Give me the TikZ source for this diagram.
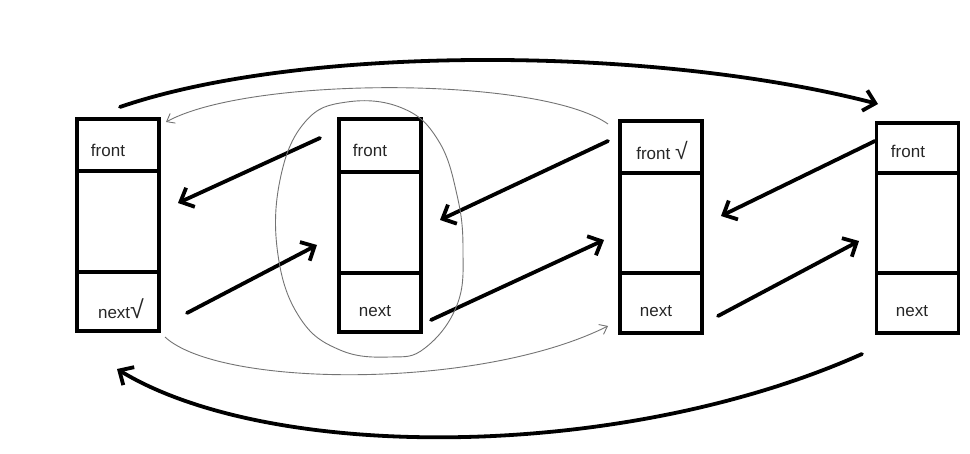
\documentclass[tikz,border=0pt]{standalone}
\usepackage{fontspec}
\setmainfont{Liberation Sans}
\usetikzlibrary{arrows.meta}
\begin{document}
\begin{tikzpicture}[x=1pt,y=-1pt,
  cell/.style={draw, line width=3.3pt, rectangle, inner sep=0pt, minimum width=82pt},
  lbl/.style={inner sep=0pt, font=\fontsize{17}{19}\selectfont, text=black!85},
  bold/.style={line width=3.8pt, line cap=round, -{Straight Barb[length=11pt,width=21pt,line width=3.8pt]}},
  thin/.style={draw=black!55, line width=0.9pt},
  thinarr/.style={thin, -{Straight Barb[length=7pt,width=11pt,line width=0.9pt]}}]
\useasboundingbox (0,0) rectangle (970,454);
% box 1
\node[cell, minimum height=52pt]  (b1f) at (118,145) {};
\node[cell, minimum height=101pt] (b1m) at (118,221.5) {};
\node[cell, minimum height=59pt]  (b1n) at (118,301.5) {};
% box 2
\node[cell, minimum height=53pt]  (b2f) at (380,145.5) {};
\node[cell, minimum height=101pt] (b2m) at (380,222.5) {};
\node[cell, minimum height=59pt]  (b2n) at (380,302.5) {};
% box 3
\node[cell, minimum height=52pt]  (b3f) at (661,147) {};
\node[cell, minimum height=100pt] (b3m) at (661,223) {};
\node[cell, minimum height=60pt]  (b3n) at (661,303) {};
% box 4
\node[cell, minimum height=50pt]  (b4f) at (917.5,148) {};
\node[cell, minimum height=100pt] (b4m) at (917.5,223) {};
\node[cell, minimum height=60pt]  (b4n) at (917.5,303) {};
% labels
\node[lbl] (t1f) at (108,150) {front};
\node[lbl] (t1n) at (121,309) {next\fontsize{25}{27}\selectfont√};
\node[lbl] (t2f) at (370,150) {front};
\node[lbl] (t2n) at (375,311) {next};
\node[lbl] (t3f) at (662,150) {front \fontsize{23}{25}\selectfont√};
\node[lbl] (t3n) at (656,311) {next};
\node[lbl] (t4f) at (908,151) {front};
\node[lbl] (t4n) at (912,311) {next};
% arrow end points
\coordinate (a1s) at (120,107);  \coordinate (a1e) at (878,104);
\coordinate (a2s) at (862,354);  \coordinate (a2e) at (117,369);
\coordinate (d1s) at (320,138);  \coordinate (d1e) at (178,203);
\coordinate (d2s) at (187,313);  \coordinate (d2e) at (317,245);
\coordinate (d3s) at (608,141);  \coordinate (d3e) at (440,220);
\coordinate (d4s) at (431,320);  \coordinate (d4e) at (604,240);
\coordinate (d5s) at (875,141);  \coordinate (d5e) at (721,216);
\coordinate (d6s) at (718,316);  \coordinate (d6e) at (859,241);
\coordinate (g1s) at (608,124);  \coordinate (g1e) at (166,122);
\coordinate (g2s) at (165,337);  \coordinate (g2e) at (608,326);
% thick arrows
\draw[bold] (a1s) .. controls (300,45) and (650,45) .. (a1e);
\draw[bold] (a2s) .. controls (620,462) and (270,462) .. (a2e);
\draw[bold] (d1s) -- (d1e);
\draw[bold] (d2s) -- (d2e);
\draw[bold] (d3s) -- (d3e);
\draw[bold] (d4s) -- (d4e);
\draw[bold] (d5s) -- (d5e);
\draw[bold] (d6s) -- (d6e);
% thin grey arrows
\draw[thinarr] (g1s) .. controls (540,76) and (250,76) .. (g1e);
\draw[thinarr] (g2s) .. controls (220,388) and (480,390) .. (g2e);
% loop around box 2
\draw[thin] plot[smooth cycle, tension=0.7] coordinates {(347,102) (402,108) (438,140) (457,195) (463,250) (457,305) (425,348) (390,357) (340,350) (300,318) (278,255) (280,180) (305,122)};
\end{tikzpicture}
\end{document}
